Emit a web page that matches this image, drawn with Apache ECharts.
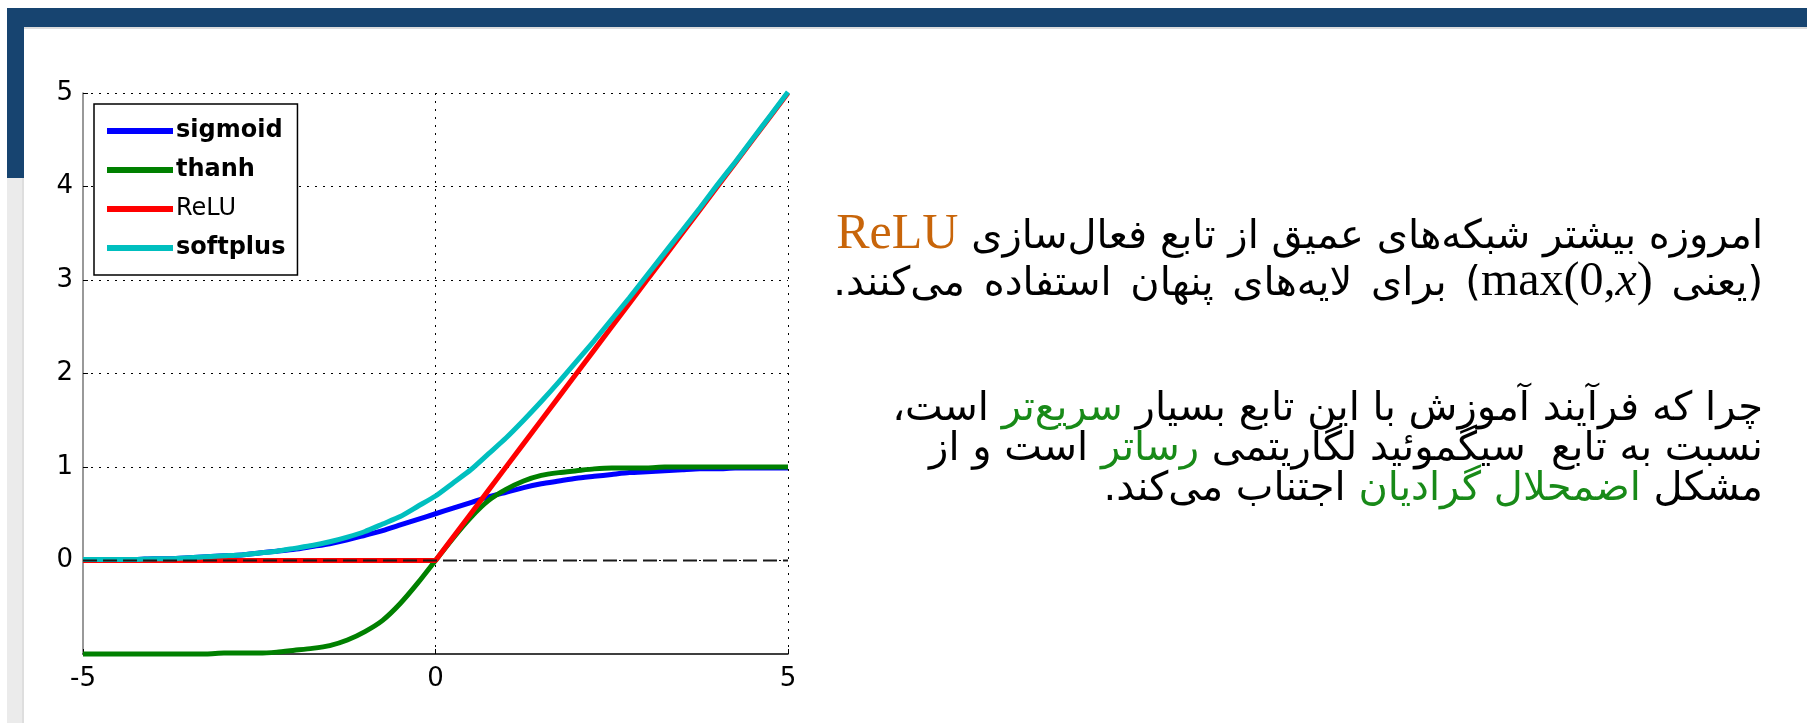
<!DOCTYPE html>
<html>
<head>
<meta charset="utf-8">
<script src="https://cdn.jsdelivr.net/npm/echarts@6/dist/echarts.min.js"></script>
<style>
  html, body { margin:0; padding:0; background:#ffffff; width:1807px; height:723px; overflow:hidden; }
  #bar { position:absolute; left:7px; top:8px; width:1800px; height:19px; background:#174470; }
  #barShadow { position:absolute; left:24px; top:27px; width:1783px; height:2px; background:#dcdcdc; }
  #leftBlue { position:absolute; left:7px; top:8px; width:17px; height:170px; background:#174470; }
  #leftGray { position:absolute; left:7px; top:178px; width:15px; height:545px; background:#ebebeb; border-right:2px solid #dedede; }
  #chart { position:absolute; left:0; top:0; width:1807px; height:723px; }
  .line { position:absolute; right:44px; white-space:nowrap; direction:rtl; text-align:right;
          font-family:"DejaVu Sans", sans-serif; font-size:40px; color:#000; line-height:46px; height:46px; }
  .lat { font-family:"Liberation Serif", "DejaVu Serif", serif; direction:ltr; unicode-bidi:isolate; }
  .orange { color:#c8650a; }
  .green { color:#188a18; }
</style>
</head>
<body>
<div id="bar"></div>
<div id="leftBlue"></div>
<div id="barShadow"></div>
<div id="leftGray"></div>
<div id="chart"></div>

<div class="line" style="top:208px;">امروزه بیشتر شبکه‌های عمیق از تابع فعال‌سازی <span class="lat orange" style="font-size:50px;">ReLU</span></div>
<div class="line" style="top:256px; word-spacing:6px;">(یعنی <span class="lat" style="font-size:48px;">max(0,<i>x</i>)</span>) برای لایه‌های پنهان استفاده می‌کنند.</div>
<div class="line" style="top:383px;">چرا که فرآیند آموزش با این تابع بسیار <span class="green">سریع‌تر</span> است،</div>
<div class="line" style="top:423px;">نسبت به تابع&nbsp; سیگموئید لگاریتمی <span class="green">رساتر</span> است و از</div>
<div class="line" style="top:463px;">مشکل <span class="green">اضمحلال گرادیان</span> اجتناب می‌کند.</div>

<script>
// ---- data ----
const xValues = [-5, -4.75, -4.5, -4.25, -4, -3.75, -3.5, -3.25, -3, -2.75, -2.5, -2.25, -2, -1.75, -1.5, -1.25, -1, -0.75, -0.5, -0.25,
                 0, 0.25, 0.5, 0.75, 1, 1.25, 1.5, 1.75, 2, 2.25, 2.5, 2.75, 3, 3.25, 3.5, 3.75, 4, 4.25, 4.5, 4.75, 5];
const sigmoidValues = [0.01, 0.01, 0.01, 0.01, 0.02, 0.02, 0.03, 0.04, 0.05, 0.06, 0.08, 0.10, 0.12, 0.15, 0.18, 0.22, 0.27, 0.32, 0.38, 0.44,
                       0.50, 0.56, 0.62, 0.68, 0.73, 0.78, 0.82, 0.85, 0.88, 0.90, 0.92, 0.94, 0.95, 0.96, 0.97, 0.98, 0.98, 0.99, 0.99, 0.99, 0.99];
const tanhValues = [-1.00, -1.00, -1.00, -1.00, -1.00, -1.00, -1.00, -1.00, -0.99, -0.99, -0.99, -0.98, -0.96, -0.94, -0.91, -0.85, -0.76, -0.64, -0.46, -0.24,
                    0.00, 0.24, 0.46, 0.64, 0.76, 0.85, 0.91, 0.94, 0.96, 0.98, 0.99, 0.99, 0.99, 1.00, 1.00, 1.00, 1.00, 1.00, 1.00, 1.00, 1.00];
const reluValues = [0, 0, 0, 0, 0, 0, 0, 0, 0, 0, 0, 0, 0, 0, 0, 0, 0, 0, 0, 0,
                    0, 0.25, 0.5, 0.75, 1, 1.25, 1.5, 1.75, 2, 2.25, 2.5, 2.75, 3, 3.25, 3.5, 3.75, 4, 4.25, 4.5, 4.75, 5];
const softplusValues = [0.01, 0.01, 0.01, 0.01, 0.02, 0.02, 0.03, 0.04, 0.05, 0.06, 0.08, 0.10, 0.13, 0.16, 0.20, 0.25, 0.31, 0.39, 0.47, 0.58,
                        0.69, 0.83, 0.97, 1.14, 1.31, 1.50, 1.70, 1.91, 2.13, 2.35, 2.58, 2.81, 3.05, 3.29, 3.53, 3.77, 4.02, 4.26, 4.51, 4.76, 5.01];
const zeroLineX = [-5, 5];
const zeroLineY = [0, 0];
const seriesNames = ['sigmoid', 'thanh', 'ReLU', 'softplus'];
const seriesColors = ['#0000ff', '#008000', '#ff0000', '#00bfbf'];
const yTickValues = [-1, 0, 1, 2, 3, 4, 5];
const yTickLabels = ['', '0', '1', '2', '3', '4', '5'];
const xTickValues = [-5, 0, 5];
const xTickLabels = ['-5', '0', '5'];

const pairs = (xs, ys) => xs.map((x, i) => [x, ys[i]]);
const seriesValues = [sigmoidValues, tanhValues, reluValues, softplusValues];

const chart = echarts.init(document.getElementById('chart'), null, { renderer: 'canvas' });
const tickFont = { fontFamily: 'DejaVu Sans', fontSize: 26, color: '#000' };
const gridLine = { show: true, showMinLine: false, lineStyle: { color: '#000', width: 1, type: [2, 6] } };

const series = seriesNames.map((name, i) => ({
  name: name,
  type: 'line',
  data: pairs(xValues, seriesValues[i]),
  showSymbol: false,
  smooth: name === 'ReLU' ? false : 0.2,
  clip: false,
  lineStyle: { width: 5, color: seriesColors[i] },
  itemStyle: { color: seriesColors[i] },
  emphasis: { disabled: true },
  z: 2 + i
}));
series.push({
  name: 'zero',
  type: 'line',
  data: pairs(zeroLineX, zeroLineY),
  showSymbol: false,
  lineStyle: { width: 2, color: '#1a1a1a', type: [14, 6] },
  emphasis: { disabled: true },
  z: 10
});

chart.setOption({
  backgroundColor: 'transparent',
  animation: false,
  grid: { left: 83, top: 93, right: 1807 - 788, bottom: 723 - 654, containLabel: false },
  legend: {
    data: seriesNames.map(n => n === 'ReLU' ? { name: n, textStyle: { fontWeight: 'normal' } } : { name: n }),
    orient: 'vertical',
    left: 94, top: 104,
    icon: 'rect',
    itemWidth: 66, itemHeight: 6,
    itemGap: 9,
    padding: [12, 12, 12, 13],
    borderColor: '#000', borderWidth: 1.5,
    backgroundColor: '#fff',
    textStyle: { fontFamily: 'DejaVu Sans', fontSize: 24, fontWeight: 'bold', color: '#000', lineHeight: 30, padding: [0, 0, 0, -2] }
  },
  xAxis: {
    type: 'value', min: xTickValues[0], max: xTickValues[xTickValues.length - 1], interval: 5,
    axisLine: { show: true, onZero: false, lineStyle: { color: '#000', width: 1.5 } },
    axisTick: { show: true, inside: true, length: 5, lineStyle: { color: '#000' } },
    axisLabel: { ...tickFont, margin: 12, formatter: v => xTickLabels[xTickValues.indexOf(v)] },
    splitLine: gridLine
  },
  yAxis: {
    type: 'value', min: yTickValues[0], max: yTickValues[yTickValues.length - 1], interval: 1,
    axisLine: { show: true, onZero: false, lineStyle: { color: '#777', width: 1.5 } },
    axisTick: { show: true, inside: true, length: 5, lineStyle: { color: '#000' } },
    axisLabel: { ...tickFont, margin: 10, formatter: v => yTickLabels[yTickValues.indexOf(v)] },
    splitLine: gridLine
  },
  series: series
});
</script>
</body>
</html>
